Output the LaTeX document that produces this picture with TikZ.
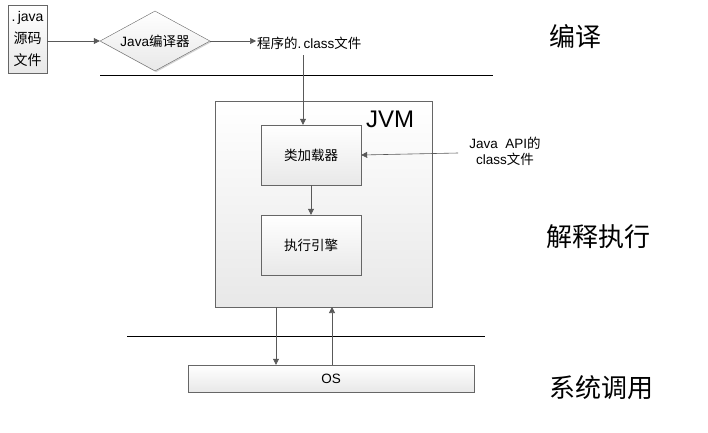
\documentclass[tikz,border=0pt]{standalone}
\usepackage{fontspec}
\setmainfont{Liberation Sans}
\newfontfamily\cjk{Noto Sans CJK SC}
\usetikzlibrary{shapes.geometric,arrows.meta,shadows}
\begin{document}
\begin{tikzpicture}[x=1pt,y=-1pt,
  font=\fontsize{13.5}{16}\selectfont,
  boxst/.style={draw=gray!80!black, top color=white, bottom color=gray!18, inner sep=0pt,
    drop shadow={opacity=0.35, shadow xshift=1.2pt, shadow yshift=-1.2pt}},
  arr/.style={draw=gray!70!black, line width=0.6pt, -{Triangle[length=6pt,width=6pt]}},
  sep/.style={draw=black, line width=0.6pt},
  big/.style={font=\cjk\fontsize{26}{30}\selectfont}]
\useasboundingbox (0,0) rectangle (708,432);
% compile stage
\node[boxst, minimum width=39pt, minimum height=68pt, align=center,
  font=\fontsize{14}{22}\selectfont] (src) at (27.5,39)
  {.\,java\\{\cjk 源码}\\{\cjk 文件}};
\node[diamond, boxst, minimum width=110pt, minimum height=60pt, aspect=1.8] (comp) at (155,41)
  {Java{\cjk 编译器}};
\node[anchor=west, inner sep=1pt] (cls) at (256,43) {{\cjk 程序的}.\,class{\cjk 文件}};
\draw[arr] (src.east |- comp.west) -- (comp.west);
\draw[arr] (comp.east) -- (comp.east -| cls.west);
\draw[sep] (100,75) -- (493,75);
\node[big, anchor=west, inner sep=0pt] (l1) at (549,37) {编译};
% JVM
\node[boxst, minimum width=217pt, minimum height=206pt] (jvm) at (323.5,204) {};
\node[font=\fontsize{24}{28}\selectfont, anchor=center] (jvml) at (390,119) {JVM};
\node[boxst, minimum width=100pt, minimum height=60pt] (load) at (311,155) {\cjk 类加载器};
\node[boxst, minimum width=100pt, minimum height=60pt] (exec) at (311,245) {\cjk 执行引擎};
\coordinate (clsb) at (303,55);
\draw[arr] (clsb) -- (clsb |- load.north);
\draw[arr] (load.south) -- (exec.north);
\node[align=center, inner sep=1pt] (api) at (505,151) {Java\ \ API{\cjk 的}\\class{\cjk 文件}};
\coordinate (apiL) at (458,153);
\draw[arr] (apiL) -- (load.east);
\node[big, anchor=west, inner sep=0pt] (l2) at (546,237) {解释执行};
% OS
\draw[sep] (127,336) -- (485,336);
\node[boxst, minimum width=286pt, minimum height=27pt] (os) at (331,378.5) {OS};
\coordinate (dn) at (276,307);
\coordinate (up) at (332,307);
\draw[arr] (dn) -- (dn |- os.north);
\draw[arr] (up |- os.north) -- (up);
\node[big, anchor=west, inner sep=0pt] (l3) at (549,388) {系统调用};
\end{tikzpicture}
\end{document}
